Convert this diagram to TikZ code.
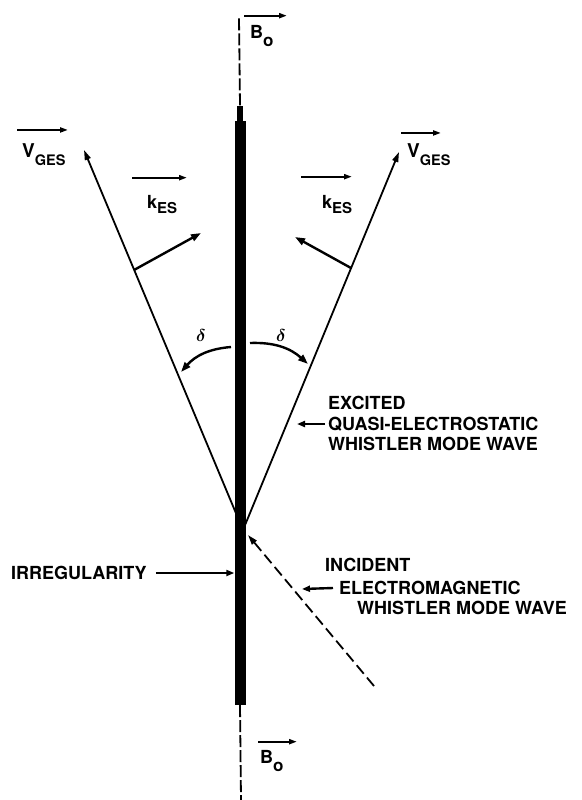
\documentclass[tikz,border=0pt]{standalone}
\usepackage{bm}
\usepackage{fontspec}
\setmainfont{TeX Gyre Heros}
\usetikzlibrary{arrows.meta}
\newcommand{\lowsub}[4]{#1\raisebox{-#2}{\fontsize{#3}{#3}\selectfont #4}}
\begin{document}
\begin{tikzpicture}[x=1pt,y=-1pt,
    lbl/.style={inner sep=0pt,font=\fontsize{18}{20}\selectfont\bfseries},
    vec/.style={line width=2pt,-{Triangle[length=8pt,width=5pt]}},
    ray/.style={line width=1.8pt,-{Triangle[length=10pt,width=6pt]}},
    kvec/.style={line width=2.4pt,-{Triangle[length=10pt,width=7pt]}},
    pointer/.style={line width=2.4pt,-{Triangle[length=8pt,width=6pt]}},
    fieldline/.style={line width=1.8pt,dash pattern=on 12pt off 3pt}]
  \useasboundingbox (0,0) rectangle (581,800);
  % irregularity along the field line
  \node[fill=black,inner sep=0pt,minimum width=11pt,minimum height=584pt] (bar) at (240,413) {};
  \node[fill=black,inner sep=0pt,minimum width=6pt,minimum height=15pt,anchor=south] (cap) at (bar.north) {};
  \coordinate (btop) at (239,18);
  \coordinate (bbot) at (241,800);
  \draw[fieldline] (cap.north) -- (btop);
  \draw[fieldline] (bar.south) -- (bbot);
  \node[lbl,anchor=base west] (bt) at (250,38) {\lowsub{B}{9pt}{17}{o}};
  \draw[vec] ([xshift=-6pt,yshift=9pt]bt.north west) -- +(43,0);
  \node[lbl,anchor=base west] (bb) at (260,763) {\lowsub{B}{8pt}{17}{o}};
  \draw[vec] ([xshift=-2pt,yshift=8pt]bb.north west) -- +(39,0);
  % excited rays
  \coordinate (apex) at (243,530);
  \coordinate (vl) at (84,150);
  \coordinate (vr) at (399,152);
  \draw[ray] (apex) -- (vl);
  \draw[ray] (apex) -- (vr);
  \node[lbl,anchor=base west,font=\fontsize{19}{20}\selectfont\bfseries] (vgl) at (22,157) {\lowsub{V}{8pt}{14.5}{GES}};
  \draw[vec] ([xshift=-5pt,yshift=13pt]vgl.north west) -- +(51,0);
  \node[lbl,anchor=base west,font=\fontsize{19}{20}\selectfont\bfseries] (vgr) at (407,157) {\lowsub{V}{8pt}{14.5}{GES}};
  \draw[vec] ([xshift=-6pt,yshift=10pt]vgr.north west) -- +(40,0);
  % wave vectors
  \coordinate (kl0) at (134,270);
  \coordinate (kl1) at (201,233);
  \coordinate (kr0) at (351,268);
  \coordinate (kr1) at (295,237);
  \draw[kvec] (kl0) -- (kl1);
  \draw[kvec] (kr0) -- (kr1);
  \node[lbl,anchor=base west] (kl) at (147,208) {\lowsub{k}{5pt}{15}{ES}};
  \draw[vec] ([xshift=-15pt,yshift=17pt]kl.north west) -- +(55,0);
  \node[lbl,anchor=base west] (kr) at (322,208) {\lowsub{k}{5pt}{15}{ES}};
  \draw[vec] ([xshift=-21pt,yshift=18pt]kr.north west) -- +(51,0);
  % angles
  \node[font=\fontsize{18}{18}\selectfont] (dl) at (201,335) {$\bm{\delta}$};
  \node[font=\fontsize{18}{18}\selectfont] (dr) at (281,335) {$\bm{\delta}$};
  \coordinate (dl0) at (231,347);
  \coordinate (dl1) at (181,372);
  \coordinate (dr0) at (250,343);
  \coordinate (dr1) at (308,364);
  \draw[kvec] (dl0) to[bend right=22] (dl1);
  \draw[kvec] (dr0) to[bend left=22] (dr1);
  % excited wave label
  \node[lbl,anchor=west] (ex1) at (328,403) {EXCITED};
  \node[lbl,anchor=west] (ex2) at (328,424) {QUASI-ELECTROSTATIC};
  \node[lbl,anchor=west] (ex3) at (328,444) {WHISTLER MODE WAVE};
  \coordinate (exTip) at (297,424);
  \draw[pointer] ([xshift=-3pt]ex2.west) -- (exTip);
  % irregularity label
  \node[lbl,anchor=west] (irr) at (11,573) {IRREGULARITY};
  \draw[pointer] ([xshift=9pt]irr.east) -- (bar.west |- irr.east);
  % incident wave
  \coordinate (incEnd) at (374,686);
  \coordinate (incTip) at (248,535);
  \draw[line width=1.8pt,dash pattern=on 11pt off 5pt,-{Triangle[length=10pt,width=6pt]}] (incEnd) -- (incTip);
  \node[lbl,anchor=west] (inc1) at (325,565) {INCIDENT};
  \node[lbl,anchor=west] (inc2) at (339,588) {ELECTROMAGNETIC};
  \node[lbl,anchor=west] (inc3) at (357,608) {WHISTLER MODE WAVE};
  \coordinate (incArr) at (302,589);
  \draw[pointer] ([xshift=-6pt]inc2.west) -- (incArr);
\end{tikzpicture}
\end{document}
